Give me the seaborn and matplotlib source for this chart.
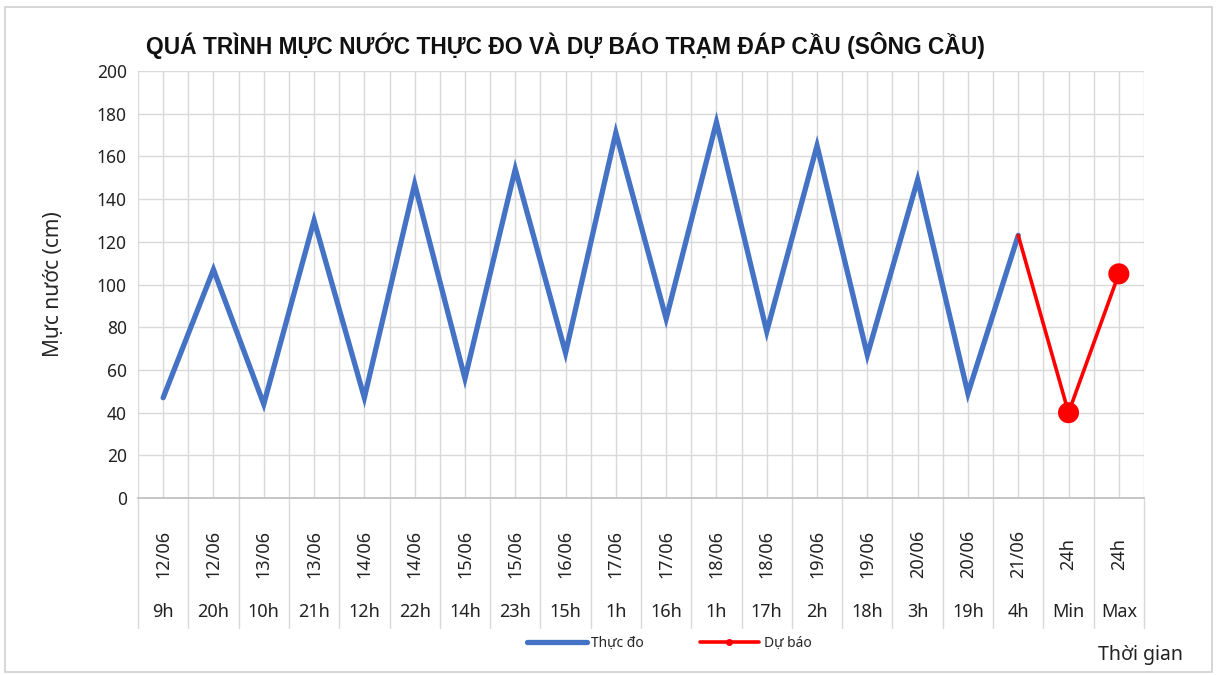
import numpy as np
import pandas as pd
import seaborn as sns
import matplotlib.pyplot as plt
from matplotlib.lines import Line2D
from matplotlib.patches import Rectangle

# data
dates = ["12/06", "12/06", "13/06", "13/06", "14/06", "14/06", "15/06", "15/06", "16/06",
         "17/06", "17/06", "18/06", "18/06", "19/06", "19/06", "20/06", "20/06", "21/06", "24h", "24h"]
hours = ["9h", "20h", "10h", "21h", "12h", "22h", "14h", "23h", "15h", "1h",
         "16h", "1h", "17h", "2h", "18h", "3h", "19h", "4h", "Min", "Max"]
observed = [47, 107, 44, 130, 47, 147, 56, 154, 68, 171, 84, 176, 78, 165, 67, 149, 49, 123]
forecast_idx = [17, 18, 19]
forecast = [123, 40, 105]

sns.set_theme(style="white")
plt.rcParams['font.family'] = ['Noto Sans', 'DejaVu Sans']

fig = plt.figure(figsize=(12.17, 6.75), dpi=100)
ax = fig.add_axes([0.1134, 0.262, 0.8266, 0.633])

n = len(hours)
obs_df = pd.DataFrame({"x": np.arange(len(observed)), "y": observed})
fc_df = pd.DataFrame({"x": forecast_idx, "y": forecast})

sns.lineplot(data=obs_df, x="x", y="y", ax=ax, color="#4472C4", linewidth=3.8,
             solid_joinstyle="miter", zorder=3)
sns.lineplot(data=fc_df, x="x", y="y", ax=ax, color="#FF0000", linewidth=2.6, zorder=4)
sns.scatterplot(data=fc_df.iloc[1:], x="x", y="y", ax=ax, color="#FF0000", s=230,
                edgecolor="none", zorder=5)

ax.set_xlim(-0.5, n - 0.5)
ax.set_ylim(0, 200)
ax.set_yticks(range(0, 201, 20))
ax.tick_params(axis="y", labelsize=12.5, colors="#222222", length=0, pad=8)
ax.set_xticks([])
ax.set_xlabel("")
ax.set_ylabel("Mực nước (cm)", fontsize=15, labelpad=24)

# gridlines
for v in range(20, 201, 20):
    ax.axhline(v, color="#d9d9d9", lw=1, zorder=1)
for k in np.arange(-0.5, n, 0.5):
    ax.axvline(k, color="#d9d9d9", lw=1, zorder=1)
for s in ["top", "right", "left"]:
    ax.spines[s].set_visible(False)
ax.spines["bottom"].set_color("#bfbfbf")

# two-level category axis
trans = ax.get_xaxis_transform()
for i in range(n):
    ax.text(i, -0.13, dates[i], transform=trans, rotation=90, ha="center", va="center",
            fontsize=13, color="#222222")
    ax.text(i, -0.267, hours[i], transform=trans, ha="center", va="center",
            fontsize=13, color="#222222")
for k in np.arange(-0.5, n, 1.0):
    ax.plot([k, k], [0, -0.305], transform=trans, color="#d9d9d9", lw=1, clip_on=False)

handles = [Line2D([], [], color="#4472C4", lw=3.8),
           Line2D([], [], color="#FF0000", lw=2.6, marker="o", markersize=4)]
fig.legend(handles, ["Thực đo", "Dự báo"], loc="center", bbox_to_anchor=(0.55, 0.047),
           ncol=2, frameon=False, fontsize=10, handlelength=4.3, columnspacing=4,
           handletextpad=0.3)

fig.text(0.12, 0.933, "QUÁ TRÌNH MỰC NƯỚC THỰC ĐO VÀ DỰ BÁO TRẠM ĐÁP CẦU (SÔNG CẦU)",
         fontsize=16.4, fontweight="bold", ha="left", va="center", color="#111111",
         family=["Liberation Sans", "DejaVu Sans"])
fig.text(0.937, 0.03, "Thời gian", fontsize=14, ha="center", va="center", color="#222222")

fig.patches.append(Rectangle((0.004, 0.004), 0.992, 0.985, transform=fig.transFigure,
                             fill=False, edgecolor="#d0d0d0", lw=1.2))

fig.savefig("out.png", dpi=100)
